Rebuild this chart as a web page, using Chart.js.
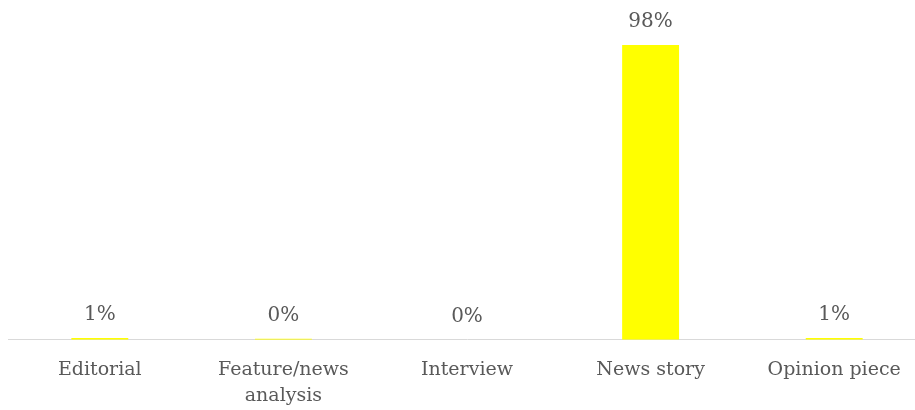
<!DOCTYPE html>
<html>
<head>
<meta charset="utf-8">
<script src="https://cdn.jsdelivr.net/npm/chart.js@4/dist/chart.umd.min.js"></script>
<style>
  html, body { margin: 0; padding: 0; background: #fff; overflow: hidden; }
  #wrap { width: 926px; height: 425px; }
</style>
</head>
<body>
<div id="wrap"><canvas id="chart"></canvas></div>
<script>
// Article types and their share of coverage
const categories = ['Editorial', ['Feature/news', 'analysis'], 'Interview', 'News story', 'Opinion piece'];
const shares = [0.6, 0.3, 0, 98, 0.6];

const textColor = '#595959';
const fontFamily = '"DejaVu Serif", "Liberation Serif", serif';

// draws the percentage above each bar
const valueLabels = {
    id: 'valueLabels',
    afterDatasetsDraw(chart) {
        const ctx = chart.ctx;
        const meta = chart.getDatasetMeta(0);
        ctx.save();
        ctx.fillStyle = textColor;
        ctx.font = '20px ' + fontFamily;
        ctx.textAlign = 'center';
        ctx.textBaseline = 'bottom';
        meta.data.forEach(function (bar, i) {
            ctx.fillText(Math.round(shares[i]) + '%', bar.x, bar.y - 13);
        });
        ctx.restore();
    }
};

new Chart(document.getElementById('chart'), {
    type: 'bar',
    data: {
        labels: categories,
        datasets: [{
            data: shares,
            backgroundColor: '#ffff00',
            barPercentage: 0.62,
            categoryPercentage: 0.5
        }]
    },
    options: {
        responsive: true,
        maintainAspectRatio: false,
        animation: false,
        layout: { padding: { top: 39, left: 8, right: 0, bottom: 6 } },
        plugins: {
            legend: { display: false },
            tooltip: { enabled: false }
        },
        scales: {
            x: {
                grid: { display: false },
                border: { color: '#d9d9d9', width: 1 },
                ticks: {
                    color: textColor,
                    font: { family: fontFamily, size: 19, lineHeight: 1.35 },
                    padding: 10,
                    maxRotation: 0,
                    autoSkip: false
                }
            },
            y: {
                display: false,
                min: 0,
                max: 100
            }
        }
    },
    plugins: [valueLabels]
});
</script>
</body>
</html>
